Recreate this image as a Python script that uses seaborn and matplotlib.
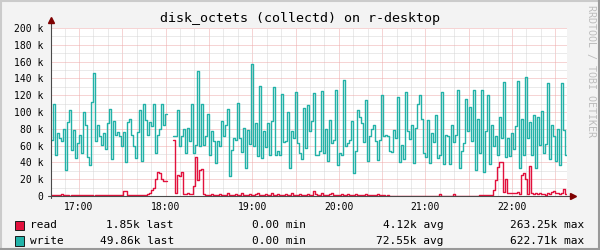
import matplotlib
matplotlib.use("Agg")
import matplotlib.pyplot as plt
from matplotlib.lines import Line2D
from matplotlib.patches import Rectangle
from matplotlib.ticker import FixedLocator, MultipleLocator
import numpy as np
import pandas as pd
import seaborn as sns

nan = float("nan")

# ---------------- data ----------------
title = "disk_octets (collectd) on r-desktop"
series_names = ["read", "write"]
start_hour = 16 + 40.6 / 60.0          # first sample time (hours)
step_hours = 1.386 / 60.0              # sample spacing (hours)

read_k = [
    1.2, 0.8, 1.5, 1.0, 0.6, 1.8, 1.2, 0.9, 1.1, 0.5, 1.4, 1.0, 0.7, 1.6, 1.2, 0.8, 1.0, 0.6,
    1.3, 1.1, 0.9, 0.5, 1.2, 1.7, 0.8, 1.0, 1.3, 0.6, 0.9, 1.5, 1.1, 0.7, 1.2, 1.0, 0.8, 1.4,
    5.5, 5.8,
    1.0, 1.3, 0.8, 1.1, 0.6, 1.2, 0.9, 1.5, 0.7, 1.0, 2.0, 3.5,
    7, 10, 20, 29, 27, 20, 18, 18,
    nan, nan, nan,
    67, 3, 25, 24, 28, 2, 2, 3, 2, 2, 12, 47, 19, 31, 32,
    2, 1.5, 1, 1.2, 2.5, 1, 0.8, 1.5, 2, 1.2,
    1, 0.8, 3, 1.5, 1, 1.2, 2, 1, 1.5, 3.5,
    1.2, 1, 0.8, 2, 1.5, 1, 2.8, 3.5, 1.2, 1,
    1.5, 2.2, 1, 0.8, 3, 1.2, 1, 2.5, 1.5, 1,
    1.2, 2, 0.8, 1, 3.2, 1.5, 1.2, 1, 2, 1.5,
    1, 0.8, 2.5, 1.2, 1, 6, 2, 1, 1.5, 3,
    1.2, 1, 0.8, 2.2, 3.5, 1.5, 1, 1.2, 0.8, 2,
    1, 1.5, 2.8, 1, 0.8, 1.2, 2, 1, 1.5, 1.2,
    0.8, 2.5, 1, 1.2, 0.8, 1.5, 1, 2, 0.6, 0.8,
    1, 0.5, 0.6,
    0.3, 0.2, 0.4, 0.3, 0.2, 0.3, 0.5, 0.2, 0.3, 0.4,
    0.2, 0.3, 0.2, 0.4, 0.3, 0.2, 0.3, 0.2, 0.4, 0.3,
    0.2, 0.3, 0.2, 0.3, 0.4, 2.0, 0.3, 0.2, 0.3, 0.2,
    0.4, 0.3, 2.2, 0.3, 0.2, 0.3, 0.4, 0.2, 0.3, 0.2,
    0.3, 0.4, 0.2, 0.3, 0.5, 0.8, 1.2, 0.6, 0.9, 1.0,
    1.1,
    1, 7, 19, 34, 41, 40, 5, 20, 3, 3, 4, 3, 4, 5, 2, 25, 27, 20, 2, 36, 3,
    2, 3, 2, 4, 2, 2, 1, 3, 2, 5, 6, 3, 4, 2, 3, 8, 1.85,
]

write_k = [
    67, 109, 49, 75, 69, 65, 80, 31, 88, 102, 55, 78, 45, 63, 73, 51, 100, 85, 46, 37,
    112, 146, 65, 85, 72, 61, 75, 56, 87, 104, 44, 89, 73, 76, 71, 60, 76, 41, 88, 92,
    73, 60, 45, 76, 102, 42,
    109, 90, 73, 88, 83, 109, 51, 73, 80, 109, 85, 98,
    nan, nan, nan,
    71, 71, 102, 60, 72, 80, 51, 81, 65, 109, 51, 61, 149, 60, 109, 61, 71, 98, 49, 77,
    65, 39, 65, 59, 89, 71, 85,
    104, 24, 55, 69, 67, 111, 69, 52, 81, 33, 79, 62, 157, 60, 87, 48, 131, 45, 77, 58,
    87, 49, 89, 130, 49, 54, 49, 122, 64, 65, 100, 33, 77, 69, 124, 63, 51, 44, 105, 57,
    108, 77, 89,
    123, 49, 49, 54, 125, 51, 80, 42, 90, 63, 67, 126, 37, 51, 49, 138, 60, 63, 67, 89,
    27, 53, 102, 94, 87, 64, 114, 42, 71, 80, 85, 65, 43, 67, 120, 71, 73, 72, 54, 52,
    79, 69, 118, 41,
    61, 44, 124, 77, 68, 85, 39, 81, 109, 120, 92, 51, 47, 90, 39, 75, 64, 96, 45, 49,
    124, 38, 73, 71, 38, 85, 64, 73, 126, 33, 53, 63, 116, 77, 106, 65, 126, 31, 92, 51,
    126, 29, 77,
    120, 38, 85, 59, 72, 49, 94, 69, 136, 47, 69, 48, 75, 56, 83, 137, 33, 92, 49, 142,
    69, 88, 49, 96, 33, 94, 61, 101, 51, 62, 134, 44, 85, 71, 42, 80, 37, 134, 79, 49,
]

hour_ticks = [17, 18, 19, 20, 21, 22]
hour_labels = ["17:00", "18:00", "19:00", "20:00", "21:00", "22:00"]
y_ticks = [0, 20, 40, 60, 80, 100, 120, 140, 160, 180, 200]
y_labels = ["0", "20 k", "40 k", "60 k", "80 k", "100 k", "120 k", "140 k", "160 k", "180 k", "200 k"]

legend_rows = [
    ["read", "1.85k last", "0.00 min", "4.12k avg", "263.25k max"],
    ["write", "49.86k last", "0.00 min", "72.55k avg", "622.71k max"],
]
colors = {"read": "#E2113D", "write": "#22B2A8"}

# ---------------- build long table ----------------
def to_frame(name, values):
    rows = []
    seg = 0
    last = None
    for i, v in enumerate(values):
        t = start_hour + i * step_hours
        if np.isnan(v):
            if last is not None:
                rows.append((name, seg, t, last))
                last = None
            seg += 1
            continue
        rows.append((name, seg, t, v))
        last = v
    if last is not None:
        rows.append((name, seg, start_hour + len(values) * step_hours, last))
    return pd.DataFrame(rows, columns=["series", "seg", "t", "v"])

df = pd.concat([to_frame("read", read_k), to_frame("write", write_k)], ignore_index=True)

# ---------------- style ----------------
sns.set_theme(style="white")
plt.rcParams["font.family"] = ["DejaVu Sans Mono"]
plt.rcParams["lines.scale_dashes"] = True

W, H = 600, 250
fig = plt.figure(figsize=(6, 2.5), dpi=100)
fig.patch.set_facecolor("#F3F3F3")

L, R, T, B = 51, 567, 28, 196
ax = fig.add_axes([L / W, 1 - B / H, (R - L) / W, (B - T) / H])
ax.set_facecolor("#FFFFFF")

for name in series_names:
    sub = df[df["series"] == name]
    sns.lineplot(data=sub, x="t", y="v", units="seg", estimator=None,
                 color=colors[name], lw=1.0, drawstyle="steps-post",
                 ax=ax, legend=False, zorder=3)

x0 = start_hour
x1 = start_hour + (R - L) / 86.6
ax.set_xlim(x0, x1)
ax.set_ylim(0, 200)

# grid: major (30 min / 20k) reddish, minor (10 min / 10k) grey
half_hours = [h + d for h in range(16, 23) for d in (0.0, 0.5) if x0 < h + d < x1]
ax.xaxis.set_major_locator(FixedLocator(half_hours))
ax.set_xticklabels([hour_labels[hour_ticks.index(int(h))] if abs(h - round(h)) < 1e-9 else "" for h in half_hours])
ax.xaxis.set_minor_locator(MultipleLocator(1 / 6))
ax.yaxis.set_major_locator(FixedLocator(y_ticks))
ax.set_yticklabels(y_labels)
ax.yaxis.set_minor_locator(MultipleLocator(10))

dots = (0, (1, 1))
ax.grid(which="minor", color="#D6D6D6", linestyle=dots, lw=0.72, zorder=0)
ax.grid(which="major", color="#EFAAAA", linestyle=dots, lw=0.72, zorder=1)
ax.set_axisbelow(True)

ax.tick_params(axis="both", which="both", length=0)
ax.tick_params(axis="y", pad=5.5, labelsize=7, labelcolor="#000000")
ax.tick_params(axis="x", pad=4.0, labelsize=7, labelcolor="#000000")
ax.set_xlabel("")
ax.set_ylabel("")
for s in ax.spines.values():
    s.set_visible(False)

# axes lines and arrows (rrdtool style)
axis_col = "#4A4A4A"
arrow_col = "#7F0000"
ax.plot([0, 0], [-2 / 168, 1.03], transform=ax.transAxes, color=axis_col, lw=0.8, clip_on=False, zorder=5)
ax.plot([-3 / 516, 1.008], [0, 0], transform=ax.transAxes, color=axis_col, lw=0.8, clip_on=False, zorder=5)
ax.plot([0], [1.045], transform=ax.transAxes, marker="^", color=arrow_col, ms=4, clip_on=False, zorder=6)
ax.plot([1.011], [0], transform=ax.transAxes, marker=">", color=arrow_col, ms=4, clip_on=False, zorder=6)

# title
fig.text(300 / W, 1 - 18.5 / H, title, ha="center", va="center", fontsize=9.6, color="#000000")

# watermark
fig.text(591 / W, 1 - 5 / H, "RRDTOOL / TOBI OETIKER", rotation=270, ha="center", va="top",
         fontsize=7.2, color="#BDBDBD")

# legend
row_y = [225.5, 241.0]
right_edges = [174, 306.5, 444, 584]
for row, y in zip(legend_rows, row_y):
    name = row[0]
    fig.patches.append(Rectangle((15 / W, 1 - (y + 4.8) / H), 8.5 / W, 9.5 / H,
                                 transform=fig.transFigure, facecolor=colors[name],
                                 edgecolor="#1A1A1A", lw=0.7))
    fig.text(30 / W, 1 - y / H, name, ha="left", va="center", fontsize=8, color="#000000")
    for txt, xr in zip(row[1:], right_edges):
        fig.text(xr / W, 1 - y / H, txt, ha="right", va="center", fontsize=8, color="#000000")

# 3D frame
fig.add_artist(Line2D([0, 1], [1 - 0.8 / H, 1 - 0.8 / H], transform=fig.transFigure, color="#CBCBCB", lw=1.5))
fig.add_artist(Line2D([0.8 / W, 0.8 / W], [0, 1], transform=fig.transFigure, color="#CBCBCB", lw=1.5))
fig.add_artist(Line2D([0, 1], [0.8 / H, 0.8 / H], transform=fig.transFigure, color="#999999", lw=1.5))
fig.add_artist(Line2D([1 - 0.8 / W, 1 - 0.8 / W], [0, 1], transform=fig.transFigure, color="#999999", lw=1.5))

fig.savefig("out.png", dpi=100, facecolor=fig.get_facecolor())
